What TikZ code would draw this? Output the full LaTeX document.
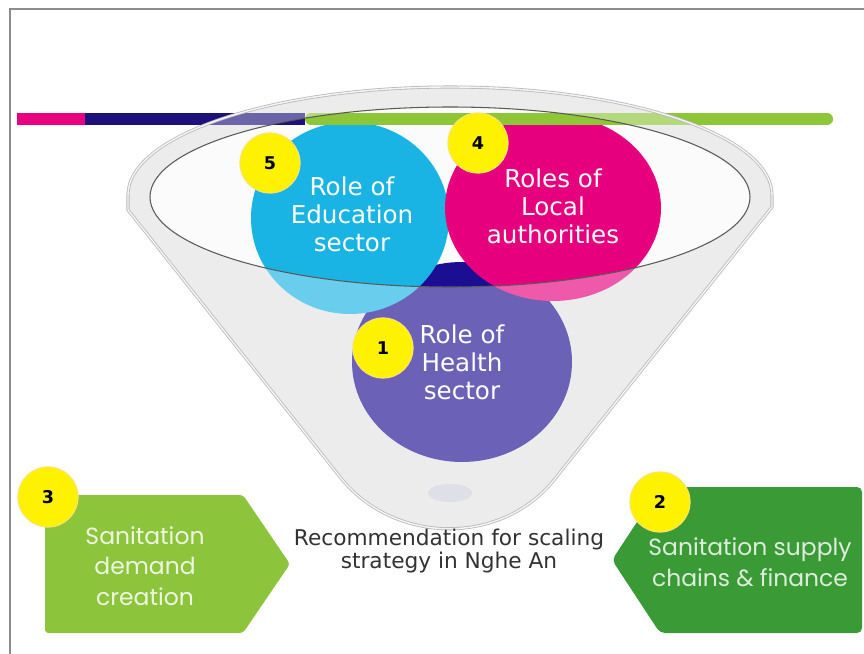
\documentclass[tikz,border=0pt]{standalone}
\usepackage{fontspec}
\usepackage{tikz}
\usetikzlibrary{positioning}
\newfontfamily\rolefont{DejaVu Sans}
\newfontfamily\arrowfont{Poppins}
\definecolor{healthviolet}{RGB}{28,14,146}
\definecolor{educyan}{RGB}{25,180,228}
\definecolor{localpink}{RGB}{230,0,125}
\definecolor{barnavy}{RGB}{30,18,122}
\definecolor{bargreen}{RGB}{141,198,55}
\definecolor{demandgreen}{RGB}{140,196,60}
\definecolor{supplygreen}{RGB}{58,154,53}
\definecolor{badgeyellow}{RGB}{255,242,0}
\definecolor{framegray}{RGB}{140,140,140}
\definecolor{captiongray}{RGB}{50,50,50}
\newcommand{\funnelpath}{(128,195) arc[start angle=180, end angle=360, x radius=322, y radius=108] -- (772,207) -- (554,480) .. controls (501,546) and (394,545) .. (340,477) -- (128,210) -- cycle}

\begin{document}
\begin{tikzpicture}[
    x=0.03cm, y=-0.03cm,
    roletext/.style={text=white, align=center, font=\rolefont\fontsize{21}{24}\selectfont},
    badge/.style={circle, fill=badgeyellow, draw=badgeyellow!70!orange!60, line width=1pt, minimum size=1.8cm, inner sep=0pt, font=\rolefont\bfseries\fontsize{15}{15}\selectfont},
    arrowtext/.style={align=center, font=\arrowfont\fontsize{20}{26}\selectfont}
]
    \useasboundingbox (0,0) rectangle (864,654);
    \draw[framegray, line width=2.5pt] (10,654) -- (10,9) -- (864,9);

    % funnel body
    \fill[gray!22] \funnelpath;
    \fill[white!97!gray] (450,197) ellipse [x radius=300, y radius=90];

    % the three roles
    \fill[healthviolet] (462,362) ellipse [x radius=110, y radius=100];
    \fill[educyan] (350,218) ellipse [x radius=99, y radius=96];
    \fill[localpink] (553,208) ellipse [x radius=108, y radius=93];

    % colour bar
    \draw[bargreen, line width=0.36cm, line cap=round] (311,119) -- (827,119);
    \fill[barnavy] (85,113) rectangle (305,125);
    \fill[localpink] (17,113) rectangle (85,125);

    % glass
    \fill[white, opacity=.35, even odd rule] \funnelpath (450,197) ellipse [x radius=300, y radius=90];
    \fill[gray!60!blue, opacity=.08] (450,493) ellipse [x radius=22, y radius=9];
    \draw[gray!55, double=gray!8, double distance=1.2pt, line width=.7pt] \funnelpath;
    \draw[gray!70!black, line width=.9pt] (450,197) ellipse [x radius=300, y radius=90];

    \node[roletext] (education) at (352,214) {Role of\\Education\\sector};
    \node[roletext] (local) at (553,206) {Roles of\\Local\\authorities};
    \node[roletext] (health) at (462,362) {Role of\\Health\\sector};

    \node[badge] (badge5) at (270,163) {5};
    \node[badge] (badge4) at (478,143) {4};
    \node[badge] (badge1) at (383,348) {1};

    % the two arrows
    \fill[demandgreen, rounded corners=0.1cm] (45,495) -- (243,495) -- (290,564) -- (243,633) -- (45,633) -- cycle;
    \fill[supplygreen, rounded corners=0.15cm] (660,487) -- (862,487) -- (862,633) -- (660,633) -- (612,560) -- cycle;
    \node[arrowtext, text=white!85!demandgreen] (demand) at (145,566) {Sanitation\\demand\\creation};
    \node[arrowtext, text=white!82!supplygreen] (supply) at (750,562) {Sanitation supply\\chains \& finance};
    \node[badge] (badge3) at (48,497) {3};
    \node[badge] (badge2) at (660,502) {2};

    \node[align=center, text=captiongray, font=\rolefont\fontsize{18.5}{20}\selectfont] (caption) at (449,551) {Recommendation for scaling\\strategy in Nghe An};
\end{tikzpicture}
\end{document}
